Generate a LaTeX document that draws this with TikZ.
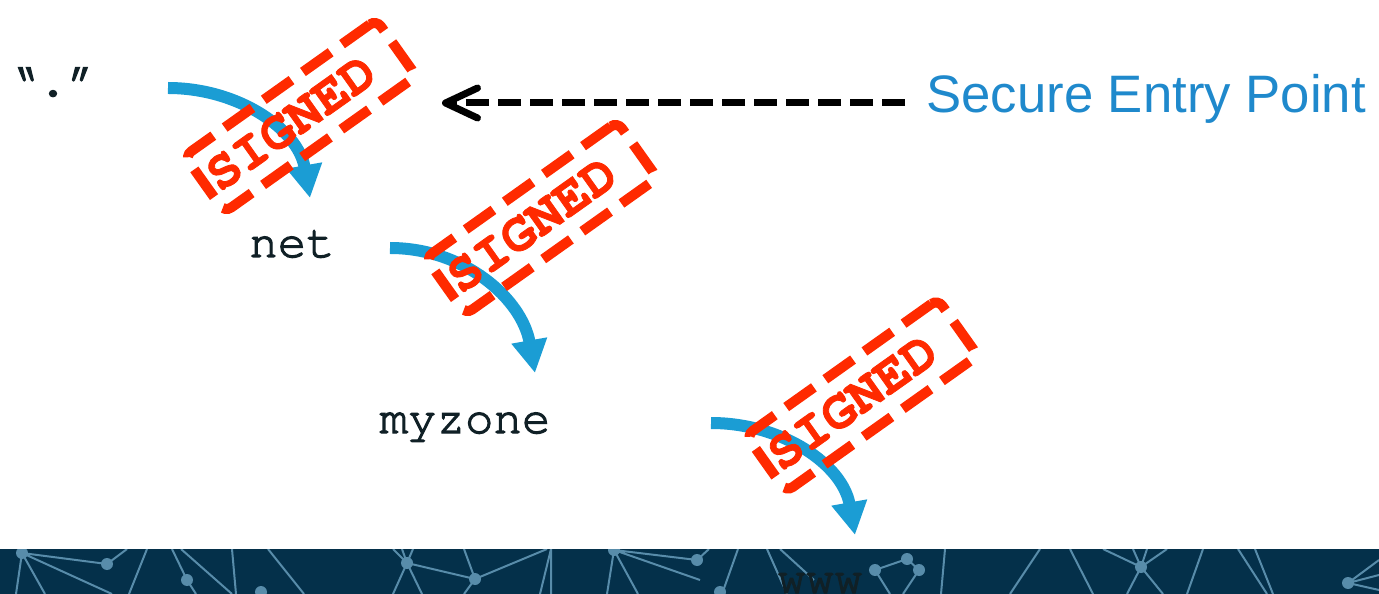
\documentclass[tikz,border=0pt]{standalone}
\usepackage{fontspec}
\usepackage{xcolor}
\usetikzlibrary{arrows.meta,calc}

\newfontfamily\zonefont{texgyrecursor-regular.otf}[FakeBold=2.5]
\newfontfamily\stampfont{texgyrecursor-bold.otf}[FakeBold=1.5]
\newfontfamily\headfont{Liberation Sans}

\definecolor{chainblue}{RGB}{27,157,212}
\definecolor{entryblue}{RGB}{31,137,204}
\definecolor{stampred}{RGB}{255,42,0}
\definecolor{bandnavy}{RGB}{4,48,74}
\definecolor{netline}{RGB}{88,140,170}
\definecolor{zoneink}{RGB}{16,32,38}

\begin{document}
\begin{tikzpicture}[x=0.02cm, y=-0.02cm,
  zone/.style={font=\zonefont\fontsize{27}{27}\selectfont, text=zoneink, inner sep=0pt, anchor=base},
  chain/.style={draw=chainblue, line width=2.4mm, -{Triangle[length=6.6mm,width=6.8mm]}},
  stamp/.style={draw=stampred, line width=2mm, dash pattern=on 6.8mm off 2.8mm,
    rounded corners=1.6mm, rotate=35.4, minimum width=4.7cm, minimum height=1.38cm, inner sep=0pt},
  stamptext/.style={font=\stampfont\fontsize{31}{31}\selectfont, text=stampred, rotate=35.4, inner sep=0pt},
  entry/.style={draw=black, line width=1.4mm, dash pattern=on 4.6mm off 1.8mm,
    -{Straight Barb[length=6.4mm,width=6mm,line cap=round,line join=round]}},
  netedge/.style={draw=netline, line width=0.4mm},
  netdot/.style={fill=netline}
]
\useasboundingbox (0,0) rectangle (1379,594);

% Footer band
\fill[bandnavy] (0,549) rectangle (1379,594);
\begin{scope}
\clip (0,549) rectangle (1379,594);
\draw[netedge] (22,553) -- (107,564) -- (127,549)
  (22,553) -- (112,594) (22,553) -- (16,594) (22,553) -- (45,594)
  (147,549) -- (129,594) (172,549) -- (187,580) -- (196,594)
  (181,549) -- (232,594) (232,549) -- (236,594) (268,549) -- (304,594);
\draw[netedge] (393,549) -- (407,563) (402,549) -- (407,563) (413,549) -- (407,563)
  (407,563) -- (393,594) (407,563) -- (422,594) (407,563) -- (475,579)
  (464,549) -- (475,579) -- (547,549) (475,579) -- (464,594)
  (551,549) -- (551,594) (540,594) -- (551,549);
\draw[netedge] (614,550) -- (697,560) (614,550) -- (700,580) (614,550) -- (607,594)
  (614,550) -- (638,594) (697,560) -- (709,549) (738,549) -- (722,594)
  (767,549) -- (787,594) (780,549) -- (814,580);
\draw[netedge] (875,570) -- (907,559) -- (919,570) (875,570) -- (890,594) (919,570) -- (903,594)
  (945,549) -- (941,594) (1040,549) -- (1010,594) (1070,549) -- (1093,594);
\draw[netedge] (1141,567) -- (1103,549) (1141,567) -- (1133,549) (1141,567) -- (1147,549)
  (1141,567) -- (1167,549) (1141,567) -- (1127,594) (1141,567) -- (1163,594)
  (1203,549) -- (1187,594) (1238,549) -- (1267,594) (1255,549) -- (1273,594)
  (1348,583) -- (1379,560) (1348,583) -- (1379,575) (1348,583) -- (1379,590);
\foreach \p in {(22,553),(107,564),(187,580),(261,592),(407,563),(475,579),(614,550),
  (697,560),(720,592),(875,570),(907,559),(919,570),(1141,567),(1348,583)}
  \fill[netdot] \p circle (1.2mm);
\end{scope}

% Zone labels
\node[zone] (root) at (53,96) {“.”};
\node[zone] (net) at (292,257) {net};
\node[zone] (myzone) at (465,433) {myzone};
\node[zone] (www) at (820,593) {www};

% Delegation arrows
\coordinate (rootOut) at (168,88);
\coordinate (netIn) at (310,198);
\coordinate (netOut) at (390,248);
\coordinate (myzoneIn) at (535,373);
\coordinate (myzoneOut) at (711,423);
\coordinate (wwwIn) at (855,535);
\draw[chain] (rootOut) to[out=0,in=100] (netIn);
\draw[chain] (netOut) to[out=0,in=100] (myzoneIn);
\draw[chain] (myzoneOut) to[out=0,in=100] (wwwIn);

% Signatures
\node[stamp] (stampA) at (300.5,116) {};
\node[stamp] (stampB) at (541.5,218) {};
\node[stamp] (stampC) at (862,395.5) {};
\node[stamptext] (signA) at ($(stampA.center)!0.1!(stampA.west)$) {SIGNED};
\node[stamptext] (signB) at ($(stampB.center)!0.1!(stampB.west)$) {SIGNED};
\node[stamptext] (signC) at ($(stampC.center)!0.1!(stampC.west)$) {SIGNED};

% Trust anchor
\node[font=\headfont\fontsize{30}{30}\selectfont, text=entryblue, inner sep=0pt, anchor=base west]
  (sep) at (926,113) {Secure Entry Point};
\coordinate (sepStart) at (905,103);
\coordinate (sepTip) at (442,103);
\draw[entry] (sepStart) -- (sepTip);

\end{tikzpicture}
\end{document}
